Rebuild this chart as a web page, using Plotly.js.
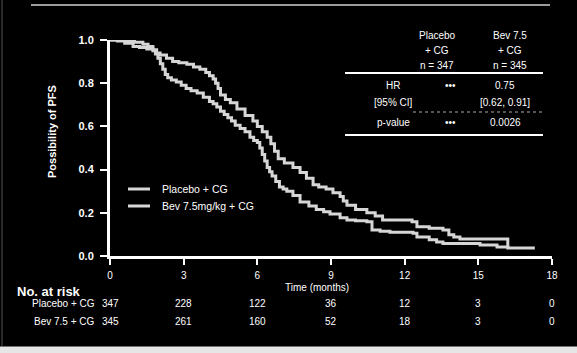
<!DOCTYPE html>
<html><head><meta charset="utf-8">
<script src="https://cdn.plot.ly/plotly-3.0.1.min.js"></script>
<style>html,body{margin:0;padding:0;background:#000;}#c{width:577px;height:353px;}</style>
</head><body><div id="c"></div>
<script>
// ---- data ----
const placeboT = [0,0.3,0.6,0.94,1.2,1.5,1.75,1.85,1.95,2.05,2.15,2.25,2.35,2.5,2.7,2.9,3.1,3.3,3.55,3.8,4.05,4.2,4.35,4.5,4.65,4.8,4.95,5.1,5.3,5.5,5.7,5.85,6.0,6.1,6.2,6.3,6.4,6.5,6.6,6.75,6.9,7.05,7.2,7.45,7.74,8.1,8.4,8.7,8.96,9.37,9.65,10.0,10.46,10.67,11.0,11.4,12.34,12.5,13.0,13.3,13.56,15.07,15.76,16.2,17.3];
const placeboS = [1.0,0.995,0.985,0.97,0.965,0.958,0.95,0.935,0.915,0.89,0.865,0.84,0.825,0.815,0.805,0.79,0.775,0.765,0.755,0.735,0.715,0.705,0.69,0.67,0.655,0.64,0.625,0.605,0.59,0.575,0.55,0.535,0.525,0.50,0.47,0.44,0.41,0.39,0.37,0.345,0.32,0.31,0.30,0.28,0.25,0.232,0.215,0.205,0.195,0.177,0.167,0.163,0.158,0.12,0.115,0.11,0.105,0.088,0.075,0.065,0.058,0.051,0.042,0.037,0.037];
const bevT = [0,0.7,1.0,1.34,1.55,1.75,1.9,2.04,2.3,2.55,2.8,3.13,3.4,3.66,3.9,4.05,4.2,4.3,4.4,4.5,4.7,4.9,5.17,5.5,5.82,6.0,6.2,6.4,6.55,6.7,6.85,7.1,7.45,7.74,8.0,8.27,8.5,8.8,9.08,9.37,9.5,9.65,10.0,10.46,10.8,11.1,12.3,12.5,13.0,13.56,13.8,14.0,14.25,16.2];
const bevS = [1.0,0.995,0.99,0.98,0.97,0.955,0.94,0.93,0.915,0.9,0.895,0.888,0.875,0.865,0.85,0.835,0.82,0.8,0.775,0.745,0.725,0.71,0.68,0.65,0.625,0.60,0.575,0.55,0.52,0.485,0.45,0.43,0.41,0.386,0.36,0.33,0.32,0.31,0.293,0.275,0.255,0.235,0.215,0.20,0.185,0.167,0.158,0.135,0.128,0.12,0.098,0.088,0.079,0.037];
const xTicks = [0,3,6,9,12,15,18];
const yTicks = [0,0.2,0.4,0.6,0.8,1.0];
const yTickText = ['0.0','0.2','0.4','0.6','0.8','1.0'];
const placeboRisk = [347,228,122,36,12,3,0];
const bevRisk = [345,261,160,52,18,3,0];
const seriesNames = ['Placebo + CG','Bev 7.5mg/kg + CG'];
const riskRowLabels = ['Placebo + CG','Bev 7.5 + CG'];
const tableHead = [['Placebo','+ CG','n = 347'],['Bev 7.5','+ CG','n = 345']];
const tableRows = [['HR','\u2022\u2022\u2022','0.75'],['[95% CI]','','[0.62, 0.91]'],['p-value','\u2022\u2022\u2022','0.0026']];

// ---- layout helpers (pixel -> paper) ----
const L=110, R=552, T=40, B=256;
const px = v => (v-L)/(R-L);
const py = v => (B-v)/(B-T);
const FONT = 'Liberation Sans, Arial, sans-serif';
const W = '#ffffff';
const lineCol = '#d6d6d6';

const traces = [
  {x:placeboT, y:placeboS, name:seriesNames[0], type:'scatter', mode:'lines', line:{shape:'hv', color:lineCol, width:3}, cliponaxis:false, showlegend:false},
  {x:bevT, y:bevS, name:seriesNames[1], type:'scatter', mode:'lines', line:{shape:'hv', color:lineCol, width:3}, cliponaxis:false, showlegend:false}
];

const ann = [];
const shapes = [];
function txt(text, x, y, opt={}) {
  ann.push(Object.assign({text:text, x:px(x), y:py(y), xref:'paper', yref:'paper', showarrow:false,
    xanchor:'center', yanchor:'middle', font:{family:FONT, size:10, color:W}}, opt));
}
// y title
txt('<b>Possibility of PFS</b>', 52, 132, {textangle:-90, font:{family:FONT, size:11, color:W}});
// x title
txt('Time (months)', 317, 287, {font:{family:FONT, size:10, color:W}});
// at risk
txt('<b>No. at risk</b>', 15, 291, {xanchor:'left', font:{family:FONT, size:13, color:W}});
txt(riskRowLabels[0], 97, 303, {xanchor:'right'});
txt(riskRowLabels[1], 97, 321, {xanchor:'right'});
xTicks.forEach((t,i)=>{
  ann.push({text:String(placeboRisk[i]), x:t, y:py(303), xref:'x', yref:'paper', showarrow:false, xanchor:'center', yanchor:'middle', font:{family:FONT,size:10,color:W}});
  ann.push({text:String(bevRisk[i]), x:t, y:py(321), xref:'x', yref:'paper', showarrow:false, xanchor:'center', yanchor:'middle', font:{family:FONT,size:10,color:W}});
});
// legend
[189,206].forEach((yy,i)=>{
  shapes.push({type:'line', xref:'paper', yref:'paper', x0:px(128), x1:px(150), y0:py(yy), y1:py(yy), line:{color:lineCol, width:3}});
  txt(seriesNames[i], 160, yy, {xanchor:'left', font:{family:FONT, size:10.5, color:W}});
});
// table
const colX = [437, 510];
const headY = [36, 50, 65];
tableHead.forEach((col,ci)=>col.forEach((s,ri)=>txt(s, colX[ci], headY[ri])));
const rowY = [85, 102, 122];
const rowX = [[393,'center'],[450,'center'],[505,'center']];
tableRows.forEach((row,ri)=>row.forEach((s,ci)=>{ if(s) txt(s, rowX[ci][0], rowY[ri]); }));
shapes.push({type:'line', xref:'paper', yref:'paper', x0:px(345), x1:px(543), y0:py(73), y1:py(73), line:{color:W, width:2}});
shapes.push({type:'line', xref:'paper', yref:'paper', x0:px(413), x1:px(543), y0:py(112), y1:py(112), line:{color:'#aaaaaa', width:1, dash:'dot'}});
shapes.push({type:'line', xref:'paper', yref:'paper', x0:px(345), x1:px(543), y0:py(135), y1:py(135), line:{color:W, width:2}});
// frame
shapes.push({type:'line', xref:'paper', yref:'paper', x0:px(31), x1:px(550), y0:py(5), y1:py(5), line:{color:'#d0d0d0', width:1.5}});
shapes.push({type:'rect', xref:'paper', yref:'paper', x0:px(-2), x1:px(580), y0:py(346.5), y1:py(356), line:{width:0}, fillcolor:'#e6e6e6'});
shapes.push({type:'line', xref:'paper', yref:'paper', x0:px(2), x1:px(2), y0:py(0), y1:py(346), line:{color:'#555555', width:1}});

const layout = {
  width:577, height:353,
  margin:{l:L, r:577-R, t:T, b:353-B, pad:0},
  paper_bgcolor:'#000000', plot_bgcolor:'#000000',
  font:{family:FONT, color:W},
  xaxis:{range:[0,18], tickvals:xTicks, ticktext:xTicks.map(String), showgrid:false, zeroline:false,
    showline:true, linecolor:W, linewidth:3, ticks:'outside', ticklen:6, tickwidth:2, tickcolor:W,
    tickfont:{family:FONT, size:10, color:W}, ticklabelstandoff:2},
  yaxis:{range:[0,1], tickvals:yTicks, ticktext:yTickText, showgrid:false, zeroline:false,
    showline:true, linecolor:W, linewidth:3, ticks:'outside', ticklen:7, tickwidth:2, tickcolor:W,
    tickfont:{family:FONT, size:11, color:W, weight:'bold'}, ticklabelstandoff:4},
  annotations:ann, shapes:shapes, showlegend:false
};
Plotly.newPlot('c', traces, layout, {staticPlot:true, displayModeBar:false});
</script></body></html>
